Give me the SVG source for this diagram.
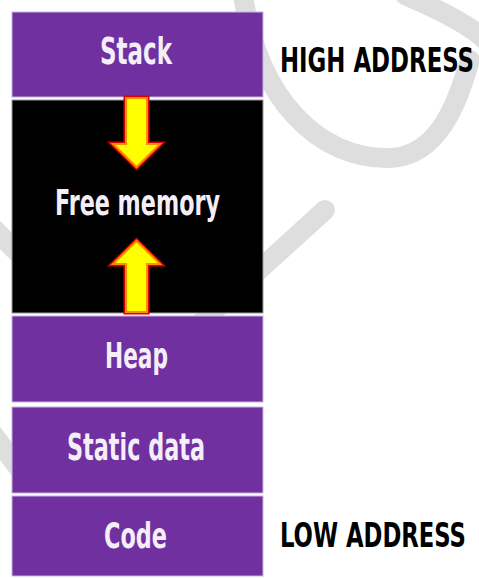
<svg xmlns="http://www.w3.org/2000/svg" width="479" height="578" viewBox="0 0 479 578">
<style>
.box{fill:#7030a0;stroke:#c9b3e0;stroke-width:1}
.free{fill:#000;stroke:#9a9a9a;stroke-width:1}
.lbl{font-family:"Liberation Sans Narrow","DejaVu Sans Condensed","Liberation Sans",sans-serif;font-weight:bold;font-size:27px}
.in{fill:#f3eef8}
.out{fill:#000;font-size:24px}
.wm{fill:none;stroke:#dedede;stroke-width:20;stroke-linecap:round}
.arO{fill:none;stroke:#d80000;stroke-width:5;stroke-linejoin:miter}
.arI{fill:#ffff00;stroke:#ff8c00;stroke-width:2;stroke-linejoin:miter}
</style>
<rect width="479" height="578" fill="#fff"/>
<g id="watermark">
<path class="wm" d="M243,-5 C258,100 320,160 390,158 C440,156 458,100 470,60"/>
<path class="wm" d="M405,-5 C440,10 470,25 485,40"/>
<path class="wm" d="M325,210 L160,360"/>
<path class="wm" d="M-10,225 L20,255"/>
<path class="wm" d="M-10,430 L20,470"/>
</g>
<g id="stack"><rect class="box" x="12" y="12" width="251" height="85"/><text class="lbl in" transform="translate(100,64) scale(1,1.36)" textLength="72" lengthAdjust="spacingAndGlyphs">Stack</text></g>
<g id="free-memory"><rect class="free" x="12" y="100" width="251" height="213"/><text class="lbl in" transform="translate(55,215) scale(1,1.32)" textLength="165" lengthAdjust="spacingAndGlyphs">Free memory</text></g>
<g id="heap"><rect class="box" x="12" y="316" width="251" height="86"/><text class="lbl in" transform="translate(105,368) scale(1,1.32)" textLength="63" lengthAdjust="spacingAndGlyphs">Heap</text></g>
<g id="static-data"><rect class="box" x="12" y="407" width="251" height="86"/><text class="lbl in" transform="translate(67,460) scale(1,1.36)" textLength="138" lengthAdjust="spacingAndGlyphs">Static data</text></g>
<g id="code"><rect class="box" x="12" y="496" width="251" height="80"/><text class="lbl in" transform="translate(104,548) scale(1,1.32)" textLength="63" lengthAdjust="spacingAndGlyphs">Code</text></g>
<g id="high-address"><text class="lbl out" transform="translate(280,72) scale(1,1.43)" textLength="194" lengthAdjust="spacingAndGlyphs">HIGH ADDRESS</text></g>
<g id="low-address"><text class="lbl out" transform="translate(280,547) scale(1,1.43)" textLength="186" lengthAdjust="spacingAndGlyphs">LOW ADDRESS</text></g>
<g id="connectors">
<path class="arO" d="M126,98 H147 V144 H160 L136.5,167 L113,144 H126 Z"/>
<path class="arI" d="M126,98 H147 V144 H160 L136.5,167 L113,144 H126 Z"/>
<path class="arO" d="M126,312 H147 V264 H160 L136.5,241 L113,264 H126 Z"/>
<path class="arI" d="M126,312 H147 V264 H160 L136.5,241 L113,264 H126 Z"/>
</g>
</svg>
